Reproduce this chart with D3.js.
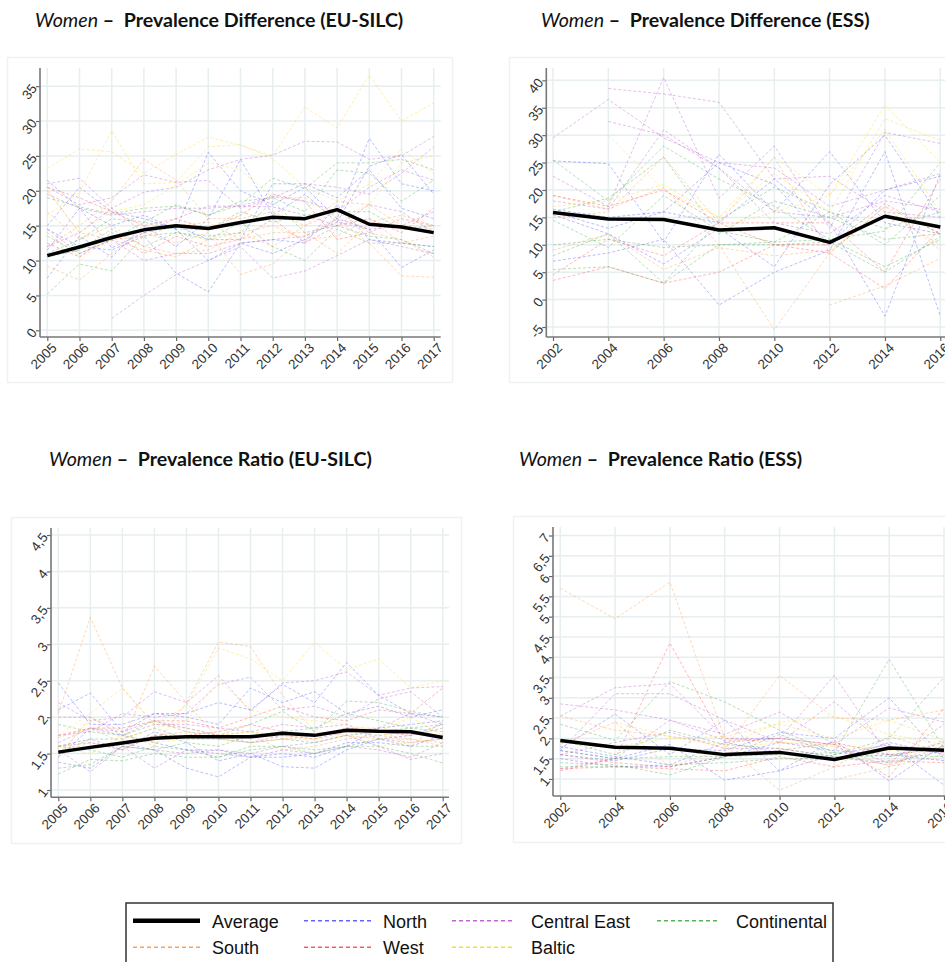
<!DOCTYPE html>
<html>
<head>
<meta charset="utf-8">
<script src="https://cdn.jsdelivr.net/npm/d3@7"></script>
<style>
  body { margin: 0; background: #fff; }
  svg { display: block; }
</style>
</head>
<body>
<svg id="chart" width="945" height="962"></svg>
<script>
// ---- Survey years ----
const silcYears = [2005, 2006, 2007, 2008, 2009, 2010, 2011, 2012, 2013, 2014, 2015, 2016, 2017];
const essYears = [2002, 2004, 2006, 2008, 2010, 2012, 2014, 2016];

// ---- Averages across countries ----
const silcDiffAverage = [10.7, 11.95, 13.3, 14.4, 15.0, 14.6, 15.45, 16.2, 16.0, 17.3, 15.2, 14.8, 14.0];
const essDiffAverage = [15.9, 14.7, 14.6, 12.7, 13.1, 10.45, 15.2, 13.25];
const silcRatioAverage = [1.52, 1.585, 1.645, 1.71, 1.73, 1.73, 1.73, 1.78, 1.75, 1.82, 1.805, 1.80, 1.72];
const essRatioAverage = [1.95, 1.78, 1.755, 1.60, 1.655, 1.48, 1.765, 1.71];

// ---- Prevalence difference, EU-SILC (one row per country) ----
const silcDiffNorth = [
  [21.5, 17.5, 15.0, 16.5, 14.5, 25.5, 20.0, 18.0, 20.5, 16.0, 27.5, 21.0, 20.0],
  [14.5, 12.0, 11.5, 13.5, 8.2, 5.5, 12.5, 11.0, 13.0, 16.0, 14.5, 9.0, 11.5],
  [7.5, 13.5, 10.5, 15.0, 12.0, 16.0, 24.5, 16.5, 19.5, 15.5, 23.5, 25.2, 19.5],
  [11.5, 17.5, 11.8, 14.0, 15.0, 13.0, 13.0, 21.0, 21.0, 19.0, 23.0, 17.5, 16.0],
  [15.0, 20.5, 17.0, 16.0, 14.5, 10.0, 12.5, 13.0, 12.5, 18.0, 13.0, 12.5, 12.0]
];
const silcDiffCentralEast = [
  [null, null, 1.7, 5.0, 8.0, 10.0, 12.0, 7.5, 8.5, 10.7, 13.0, 12.0, 11.0],
  [21.0, 21.8, 17.5, 19.8, 20.5, 23.0, 24.5, 25.1, 27.1, 27.0, 24.5, 25.0, 27.8],
  [20.5, 18.0, 19.0, 22.3, 21.2, 21.5, 17.5, 19.0, 21.0, 20.5, 19.5, 22.5, 26.3],
  [14.5, 11.0, 13.0, 10.0, 11.0, 11.0, 12.5, 13.0, 13.5, 15.5, 14.5, 15.0, 17.0],
  [12.0, 14.0, 17.5, 14.0, 16.0, 17.8, 17.8, 19.2, 18.5, 17.0, 20.5, 23.0, 21.5],
  [19.5, 17.5, 16.5, 17.0, 17.5, 17.5, 17.8, 17.7, 16.5, 15.0, 18.0, 17.0, 14.0]
];
const silcDiffContinental = [
  [19.0, 17.7, 16.7, 17.5, 17.8, 16.5, 18.0, 21.8, 20.3, 24.0, 24.0, 24.5, 23.0],
  [5.2, 9.5, 8.5, 13.5, 14.0, 13.0, 15.5, 12.0, 10.0, 14.5, 12.5, 12.5, 12.0],
  [11.0, 13.0, 16.0, 15.5, 18.0, 16.5, 18.5, 19.0, 17.0, 23.0, 22.5, 18.5, 21.5],
  [13.5, 11.0, 13.0, 15.5, 14.5, 14.5, 17.0, 15.5, 16.5, 17.0, 17.0, 14.5, 15.0],
  [10.5, 11.5, 14.5, 12.0, 14.0, 13.5, 14.0, 18.5, 14.0, 15.0, 13.5, 13.0, 11.0]
];
const silcDiffSouth = [
  [9.2, 7.2, 11.0, 14.0, 12.5, 14.0, 8.0, 9.5, 13.5, 16.0, 12.5, 7.8, 7.6],
  [17.0, 13.0, 15.0, 12.0, 11.0, 11.5, 14.0, 15.0, 13.0, 13.5, 16.0, 12.5, 13.5],
  [20.0, 14.0, 13.0, 11.5, 10.5, 13.0, 14.0, 12.0, 15.0, 18.5, 18.0, 15.0, 14.5],
  [12.0, 15.0, 18.5, 24.5, 21.5, 16.0, 16.0, 17.0, 15.0, 17.0, 14.0, 13.0, 10.5],
  [14.0, 10.5, 13.0, 13.5, 15.0, 15.5, 13.0, 14.0, 14.0, 11.0, 15.5, 16.5, 15.0]
];
const silcDiffWest = [
  [12.5, 10.5, 14.0, 11.0, 13.5, 12.0, 13.0, 16.0, 12.5, 15.0, 16.0, 14.0, 17.5],
  [20.5, 19.0, 17.0, 15.0, 16.0, 14.5, 16.5, 19.5, 18.5, 13.0, 14.0, 16.0, 15.0]
];
const silcDiffBaltic = [
  [23.2, 26.0, 25.6, 22.5, 25.2, 27.7, 26.5, 25.0, 32.0, 29.0, 36.6, 30.0, 32.6],
  [16.5, 19.8, 28.6, 21.0, 21.2, 26.3, 26.6, 24.6, 20.5, 18.5, 21.0, 26.0, 22.5],
  [20.2, 14.0, 17.0, 18.0, 20.8, 24.0, 23.0, 19.0, 19.0, 16.0, 18.0, 24.0, 25.0]
];

// ---- Prevalence difference, ESS ----
const essDiffNorth = [
  [25.3, 24.8, 10.5, 26.5, 16.0, 27.0, 14.0, 12.0],
  [7.0, 8.5, 11.0, -1.0, 5.0, 9.0, 27.0, -3.0],
  [16.0, 13.0, 16.0, 14.0, 22.0, 14.0, -3.0, 23.0],
  [15.5, 12.0, 6.5, 13.0, 6.0, 21.0, 30.0, 15.0],
  [16.5, 15.0, 16.0, 25.0, 21.0, 10.0, 20.0, 22.5]
];
const essDiffCentralEast = [
  [29.5, 36.5, 29.5, 25.0, 24.0, 17.0, 20.0, 23.0],
  [null, 38.5, 37.5, 36.0, 22.0, 22.5, 16.0, 15.0],
  [22.5, 17.0, 40.5, 18.5, 28.0, 13.0, 30.5, 28.5],
  [null, 32.5, 30.0, 24.0, 16.0, 15.0, 18.0, 16.5],
  [18.0, 16.5, 31.0, 24.0, 14.0, 12.0, 19.0, 16.0]
];
const essDiffContinental = [
  [25.5, 18.0, 28.0, 22.0, 17.0, 11.0, 12.5, 25.0],
  [8.0, 12.0, 3.0, 14.5, 20.5, 16.0, 10.0, 19.0],
  [5.5, 6.0, 3.0, 10.0, 10.5, 11.0, 6.0, 11.0],
  [14.5, 9.5, 19.0, 12.5, 10.5, 16.0, 13.0, 16.0],
  [16.0, 18.5, 26.0, 12.0, 18.0, 15.0, 11.0, 12.0],
  [10.0, 11.0, 9.5, 10.0, 10.0, 10.5, 5.0, 11.5]
];
const essDiffSouth = [
  [19.0, 16.5, 20.5, 10.0, -5.5, 8.5, 17.0, 9.0],
  [null, null, null, null, null, -1.0, 2.5, 7.5],
  [15.0, 16.0, 26.0, 14.0, 26.0, 8.5, 17.0, 12.0],
  [9.0, 12.0, 5.5, 9.5, 8.0, 9.0, 16.0, 10.0]
];
const essDiffWest = [
  [3.5, 6.0, 3.0, 5.0, 10.0, 10.0, 17.5, 12.0],
  [4.5, 11.0, 8.0, 14.0, 14.0, 14.0, 5.0, 22.0],
  [19.0, 17.0, 20.0, 14.0, 10.0, 8.5, 2.0, 13.0]
];
const essDiffBaltic = [
  [null, 30.0, 20.0, 15.0, 26.0, 19.0, 35.5, 25.0],
  [17.0, 18.0, 21.0, 15.0, 23.0, 16.0, 33.0, 29.0],
  [null, null, null, 13.0, 16.0, 19.0, 31.0, 16.0]
];

// ---- Prevalence ratio, EU-SILC ----
const silcRatioNorth = [
  [2.47, 1.9, 1.9, 2.05, 2.05, 2.2, 2.1, 2.45, 2.2, 2.75, 2.3, 2.05, 2.0],
  [1.38, 1.3, 1.6, 1.55, 1.3, 1.18, 1.45, 1.5, 1.45, 1.6, 1.85, 1.9, 1.95],
  [2.1, 2.33, 1.8, 2.05, 2.0, 1.9, 2.4, 2.2, 2.35, 2.05, 2.15, 2.0, 2.1],
  [1.6, 1.7, 1.55, 1.8, 1.65, 1.4, 1.5, 1.32, 1.3, 1.55, 1.7, 1.75, 1.9],
  [1.45, 1.85, 1.75, 1.65, 1.55, 1.55, 1.45, 1.45, 1.5, 1.65, 1.65, 1.6, 1.75]
];
const silcRatioCentralEast = [
  [1.55, 1.25, 1.6, 1.3, 1.55, 1.5, 1.45, 1.55, 1.5, 1.6, 1.55, 1.45, 1.65],
  [2.2, 1.95, 2.0, 2.35, 2.2, 2.57, 2.08, 2.47, 2.5, 2.62, 2.3, 2.4, 2.42],
  [1.75, 1.8, 2.05, 2.0, 2.05, 2.45, 2.55, 2.1, 2.15, 2.0, 2.25, 2.35, 2.0],
  [1.65, 1.85, 1.8, 1.95, 1.85, 1.75, 1.65, 1.75, 1.7, 1.8, 1.85, 2.05, 1.9],
  [1.5, 1.6, 1.65, 1.55, 1.5, 1.55, 1.5, 1.6, 1.65, 1.75, 1.6, 1.42, 1.5],
  [2.0, 2.0, 1.75, 1.9, 1.9, 1.85, 1.8, 1.9, 1.85, 1.9, 1.7, 1.65, 1.7]
];
const silcRatioContinental = [
  [1.22, 1.42, 1.4, 1.5, 1.45, 1.45, 1.55, 1.6, 1.5, 1.6, 1.6, 1.5, 1.37],
  [1.9, 1.8, 1.75, 1.95, 1.8, 1.75, 1.9, 2.08, 1.8, 2.22, 2.2, 2.08, 2.0],
  [1.3, 1.35, 1.6, 1.55, 1.65, 1.6, 1.75, 1.8, 1.85, 2.05, 1.95, 1.85, 1.9],
  [1.5, 1.7, 1.7, 1.85, 1.7, 1.7, 1.65, 1.7, 1.65, 1.75, 1.8, 1.85, 1.8],
  [1.6, 1.55, 1.45, 1.6, 1.55, 1.45, 1.6, 1.6, 1.55, 1.6, 1.7, 1.6, 1.6]
];
const silcRatioSouth = [
  [2.05, 3.37, 2.4, 1.9, 1.85, 1.75, 1.8, 1.7, 1.75, 1.8, 1.75, 1.7, 1.65],
  [1.72, 1.85, 1.65, 2.7, 2.2, 3.03, 2.97, 2.3, 1.8, 1.75, 1.7, 1.7, 1.6],
  [1.5, 1.65, 1.6, 1.75, 1.8, 1.7, 1.75, 1.55, 1.6, 1.7, 1.75, 1.8, 1.75],
  [1.45, 2.0, 1.8, 1.6, 2.2, 1.7, 1.65, 1.7, 1.7, 1.85, 1.85, 1.6, 1.95]
];
const silcRatioWest = [
  [1.75, 1.85, 1.85, 1.95, 1.95, 1.85, 2.0, 2.15, 2.0, 1.95, 2.1, 2.05, 2.4],
  [1.6, 1.65, 1.55, 1.75, 1.75, 1.8, 1.9, 1.8, 1.75, 1.85, 1.8, 1.75, 1.85]
];
const silcRatioBaltic = [
  [1.75, 2.05, 2.4, 1.9, 2.15, 2.95, 2.8, 2.5, 3.03, 2.65, 2.8, 2.4, 2.5],
  [1.5, 1.95, 1.7, 1.85, 1.95, 2.5, 2.1, 2.0, 1.95, 1.9, 1.8, 2.0, 1.75],
  [1.6, 1.5, 1.75, 1.65, 1.7, 1.75, 1.8, 1.75, 1.7, 1.75, 1.6, 1.65, 1.7]
];

// ---- Prevalence ratio, ESS ----
const essRatioNorth = [
  [1.75, 2.6, 1.6, 2.45, 1.2, 1.95, 0.95, 1.85],
  [1.7, 1.5, 1.85, 0.97, 1.2, 1.6, 1.85, 0.85],
  [1.6, 1.45, 1.75, 1.7, 2.15, 2.0, 3.0, 1.5],
  [1.8, 1.55, 1.35, 1.9, 1.65, 1.45, 1.9, 1.6],
  [1.5, 1.3, 1.3, 1.55, 1.9, 1.7, 1.6, 1.45]
];
const essRatioCentralEast = [
  [2.85, 2.7, 2.45, 2.1, 2.65, 1.85, 2.75, 2.4],
  [2.55, 3.25, 3.35, 2.0, 2.0, 3.55, 1.55, 1.9],
  [1.7, 3.1, 3.1, 2.45, 1.9, 2.9, 1.75, 1.65],
  [1.25, 1.5, 2.45, 1.95, 2.0, 1.85, 1.4, 2.35],
  [1.6, 1.9, 2.15, 1.75, 1.75, 1.55, 1.35, 1.8]
];
const essRatioContinental = [
  [2.35, 1.95, 3.4, 2.9, 2.2, 1.65, 3.95, 1.75],
  [1.4, 1.35, 1.1, 1.55, 2.1, 1.6, 2.0, 3.5],
  [1.95, 1.6, 2.2, 1.85, 1.75, 1.55, 1.4, 1.7],
  [1.3, 1.3, 1.35, 1.4, 1.5, 1.5, 1.6, 1.55],
  [1.7, 1.5, 1.55, 1.55, 1.6, 1.65, 1.55, 1.8]
];
const essRatioSouth = [
  [5.7, 4.95, 5.85, 2.0, 1.9, 1.8, 1.3, 1.95],
  [1.85, 2.4, 1.3, 1.75, 3.55, 2.5, 2.45, 2.7],
  [2.55, 2.2, 2.05, 1.85, 0.72, 1.3, 2.05, 1.65],
  [null, null, null, null, null, 0.98, 1.3, 1.6]
];
const essRatioWest = [
  [1.2, 1.5, 4.35, 1.9, 2.0, 1.85, 1.05, 2.75],
  [1.25, 1.3, 1.25, 1.2, 1.55, 1.3, 1.45, 1.4],
  [1.6, 1.4, 1.3, 1.55, 1.7, 1.9, 1.6, 1.75]
];
const essRatioBaltic = [
  [null, 2.4, 2.05, 1.8, 2.4, 2.55, 2.1, 1.85],
  [1.9, 1.8, 2.0, 2.05, 2.35, 2.0, 2.45, 1.95],
  [null, null, null, 1.75, 1.9, 1.85, 1.7, 1.8]
];

// ---- Axis ticks ----
const silcDiffTicks = [0, 5, 10, 15, 20, 25, 30, 35];
const essDiffTicks = [-5, 0, 5, 10, 15, 20, 25, 30, 35, 40];
const silcRatioTicks = [1, 1.5, 2, 2.5, 3, 3.5, 4, 4.5];
const essRatioTicks = [1, 1.5, 2, 2.5, 3, 3.5, 4, 4.5, 5, 5.5, 6, 6.5, 7];

// ---- Region styling & legend order ----
const regionColor = {
  North: "#3c3cff",
  "Central East": "#b040c8",
  Continental: "#2fa02f",
  South: "#ff8a2a",
  West: "#ff3030",
  Baltic: "#ffd000"
};
const legendRows = [
  ["Average", "North", "Central East", "Continental"],
  ["South", "West", "Baltic"]
];

const svg = d3.select("#chart");
svg.append("rect").attr("width", 945).attr("height", 962).attr("fill", "#fff");

const fmt = v => String(v).replace(".", ",");

function drawPanel(p) {
  const g = svg.append("g");

  // light frame around the panel
  g.append("rect")
    .attr("x", p.frame[0] + 0.5).attr("y", p.frame[1] + 0.5)
    .attr("width", p.frame[2]).attr("height", p.frame[3])
    .attr("fill", "none").attr("stroke", "#eef2f2").attr("stroke-width", 1.5);

  // title
  const t = g.append("text")
    .attr("x", p.titleX).attr("y", p.titleY)
    .attr("font-family", "Lato, 'Open Sans', sans-serif")
    .attr("font-size", 19.6).attr("fill", "#111")
    .style("white-space", "pre");
  t.append("tspan").attr("font-style", "italic").text("Women");
  t.append("tspan").attr("font-weight", "bold").text(" \u2013  ");
  t.append("tspan").attr("font-weight", "bold").text(p.title);

  const x = d3.scaleLinear().domain(d3.extent(p.years)).range([p.x0, p.x1]);
  const y = d3.scaleLinear().domain(p.yDomain).range([p.bottom, p.top]);

  // grid
  g.append("g").selectAll("line").data(p.years).join("line")
    .attr("x1", d => x(d)).attr("x2", d => x(d))
    .attr("y1", p.top).attr("y2", p.bottom)
    .attr("stroke", "#e7eef0").attr("stroke-width", 1.5);
  g.append("g").selectAll("line").data(p.yTicks).join("line")
    .attr("x1", p.axisX).attr("x2", p.right)
    .attr("y1", d => y(d)).attr("y2", d => y(d))
    .attr("stroke", "#e7eef0").attr("stroke-width", 1.5);

  // country lines, by region
  const line = d3.line()
    .defined(d => d[1] != null)
    .x(d => x(d[0])).y(d => y(d[1]));
  const clipId = "clip" + p.id;
  svg.append("defs").append("clipPath").attr("id", clipId)
    .append("rect").attr("x", p.axisX).attr("y", p.top)
    .attr("width", p.right - p.axisX + 20).attr("height", p.bottom - p.top);
  const lines = g.append("g").attr("clip-path", `url(#${clipId})`);
  Object.entries(p.regions).forEach(([region, rows]) => {
    rows.forEach(row => {
      lines.append("path")
        .datum(p.years.map((yr, i) => [yr, row[i]]))
        .attr("d", line)
        .attr("fill", "none")
        .attr("stroke", regionColor[region])
        .attr("stroke-opacity", 0.34)
        .attr("stroke-width", 1)
        .attr("stroke-dasharray", "3,2");
    });
  });

  // average line
  lines.append("path")
    .datum(p.years.map((yr, i) => [yr, p.average[i]]))
    .attr("d", line)
    .attr("fill", "none")
    .attr("stroke", "#000")
    .attr("stroke-width", 3.5)
    .attr("stroke-linejoin", "round");

  // axes
  const yAxis = g.append("g").attr("transform", `translate(${p.axisX},0)`)
    .call(d3.axisLeft(y).tickValues(p.yTicks).tickSize(4).tickSizeOuter(0).tickFormat(fmt));
  const xAxis = g.append("g").attr("transform", `translate(0,${p.bottom})`)
    .call(d3.axisBottom(x).tickValues(p.years).tickSize(4).tickSizeOuter(0).tickFormat(d3.format("d")));
  [yAxis, xAxis].forEach(a => {
    a.select(".domain").remove();
    a.selectAll(".tick line").attr("stroke", "#666").attr("stroke-width", 1.2);
    a.selectAll("text")
      .attr("font-family", "'Liberation Sans', Arial, sans-serif")
      .attr("font-size", 13.5).attr("fill", "#333");
  });
  yAxis.selectAll("text")
    .attr("x", 0).attr("dy", "0.35em").attr("text-anchor", "end")
    .attr("transform", "translate(-6,-1) rotate(-52)");
  xAxis.selectAll("text")
    .attr("x", 0).attr("y", 0).attr("dy", "0.7em").attr("text-anchor", "end")
    .attr("transform", "translate(3,5) rotate(-45)");

  g.append("line")
    .attr("x1", p.axisX).attr("x2", p.axisX).attr("y1", p.top).attr("y2", p.bottom)
    .attr("stroke", "#777").attr("stroke-width", 1.6);
  g.append("line")
    .attr("x1", p.axisX).attr("x2", p.right).attr("y1", p.bottom).attr("y2", p.bottom)
    .attr("stroke", "#777").attr("stroke-width", 1.6);
}

drawPanel({
  id: 1, title: "Prevalence Difference (EU-SILC)", titleX: 35, titleY: 27,
  frame: [7, 57, 445, 325],
  years: silcYears, average: silcDiffAverage, yTicks: silcDiffTicks,
  yDomain: [-0.96, 37.6], axisX: 40, x0: 47.3, x1: 433.7, right: 440.7, top: 68, bottom: 337,
  regions: { North: silcDiffNorth, "Central East": silcDiffCentralEast, Continental: silcDiffContinental,
             South: silcDiffSouth, West: silcDiffWest, Baltic: silcDiffBaltic }
});
drawPanel({
  id: 2, title: "Prevalence Difference (ESS)", titleX: 541, titleY: 27,
  frame: [509, 57, 460, 325],
  years: essYears, average: essDiffAverage, yTicks: essDiffTicks,
  yDomain: [-6.82, 42.25], axisX: 546.3, x0: 553, x1: 940.3, right: 950, top: 68, bottom: 337,
  regions: { North: essDiffNorth, "Central East": essDiffCentralEast, Continental: essDiffContinental,
             South: essDiffSouth, West: essDiffWest, Baltic: essDiffBaltic }
});
drawPanel({
  id: 3, title: "Prevalence Ratio (EU-SILC)", titleX: 49, titleY: 466,
  frame: [11, 517, 450, 326],
  years: silcYears, average: silcRatioAverage, yTicks: silcRatioTicks,
  yDomain: [0.9, 4.596], axisX: 51, x0: 58.3, x1: 442.7, right: 449, top: 528, bottom: 797.3,
  regions: { North: silcRatioNorth, "Central East": silcRatioCentralEast, Continental: silcRatioContinental,
             South: silcRatioSouth, West: silcRatioWest, Baltic: silcRatioBaltic }
});
drawPanel({
  id: 4, title: "Prevalence Ratio (ESS)", titleX: 519, titleY: 466,
  frame: [513, 516, 460, 326],
  years: essYears, average: essRatioAverage, yTicks: essRatioTicks,
  yDomain: [0.58, 7.21], axisX: 553, x0: 560.3, x1: 944, right: 950, top: 527, bottom: 796,
  regions: { North: essRatioNorth, "Central East": essRatioCentralEast, Continental: essRatioContinental,
             South: essRatioSouth, West: essRatioWest, Baltic: essRatioBaltic }
});

// ---- Legend ----
const legend = svg.append("g");
legend.append("rect")
  .attr("x", 126).attr("y", 903).attr("width", 707).attr("height", 80)
  .attr("fill", "#fff").attr("stroke", "#333").attr("stroke-width", 1.5);
const colX = [133, 304, 452, 657];
const rowY = [920.7, 947.3];
legendRows.forEach((row, r) => {
  row.forEach((name, c) => {
    const x0 = colX[c], yy = rowY[r];
    const isAvg = name === "Average";
    legend.append("line")
      .attr("x1", x0).attr("x2", x0 + (c >= 2 ? 63 : 67))
      .attr("y1", yy).attr("y2", yy)
      .attr("stroke", isAvg ? "#000" : regionColor[name])
      .attr("stroke-opacity", isAvg ? 1 : 0.8)
      .attr("stroke-width", isAvg ? 4.5 : 1.5)
      .attr("stroke-dasharray", isAvg ? null : "4,3");
    legend.append("text")
      .attr("x", x0 + 79)
      .attr("y", yy + 7)
      .attr("font-family", "'Liberation Sans', Arial, sans-serif")
      .attr("font-size", 18).attr("fill", "#111")
      .text(name);
  });
});
</script>
</body>
</html>
